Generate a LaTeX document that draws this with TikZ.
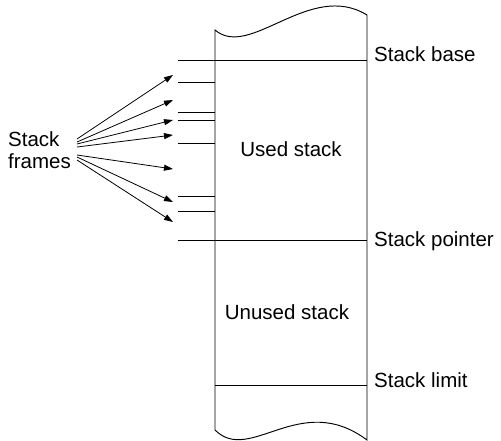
\documentclass[tikz,border=0pt]{standalone}
\usepackage{fontspec}
\setmainfont{Liberation Sans}
\usetikzlibrary{arrows.meta}
\tikzset{
  wall/.style={line width=0.95pt, black},
  rule/.style={line width=0.95pt, black},
  pointer/.style={line width=0.8pt, black, -{Triangle[length=9pt,width=6pt]}},
  lbl/.style={inner sep=0pt, font=\fontsize{20.5}{22}\selectfont},
}
\begin{document}
\begin{tikzpicture}[x=1pt, y=-1pt]
  \useasboundingbox (0,0) rectangle (501,440);

  % stack region with torn top and bottom edges
  \draw[wall] (215,30) .. controls (250,60) and (310,-20) .. (367,15)
              -- (367,440) .. controls (300,390) and (250,465) .. (215,430)
              -- cycle;

  % boundary markers
  \draw[rule] (178,60) -- (367,60);
  \draw[rule] (178,240) -- (367,240);
  \draw[rule] (215,385) -- (367,385);

  % frame boundaries inside the used stack
  \foreach \y in {82.7,112.7,120.7,143.3,196,211.3}
    \draw[rule] (178,\y) -- (215,\y);

  % labels
  \node[lbl, anchor=base west] (base)  at (374,61.5) {Stack base};
  \node[lbl, anchor=base west] (sp)    at (374,246)  {Stack pointer};
  \node[lbl, anchor=base west] (limit) at (374,387)  {Stack limit};
  \node[lbl, anchor=base] (used)   at (291,156.7) {Used stack};
  \node[lbl, anchor=base] (unused) at (287,319)   {Unused stack};
  \node[lbl, anchor=base west] (framesA) at (8,146.7) {Stack};
  \node[lbl, anchor=base west] (framesB) at (8,168.3) {frames};

  % arrow starts beside the label and tips next to the frames
  \foreach \i/\ys/\yt in {1/139/75, 2/142/100, 3/144/120, 4/147/135,
                          5/155/169, 6/157/202, 7/160/222} {
    \coordinate (s\i) at (77,\ys);
    \coordinate (t\i) at (173,\yt);
    \draw[pointer] (s\i) -- (t\i);
  }
\end{tikzpicture}
\end{document}
